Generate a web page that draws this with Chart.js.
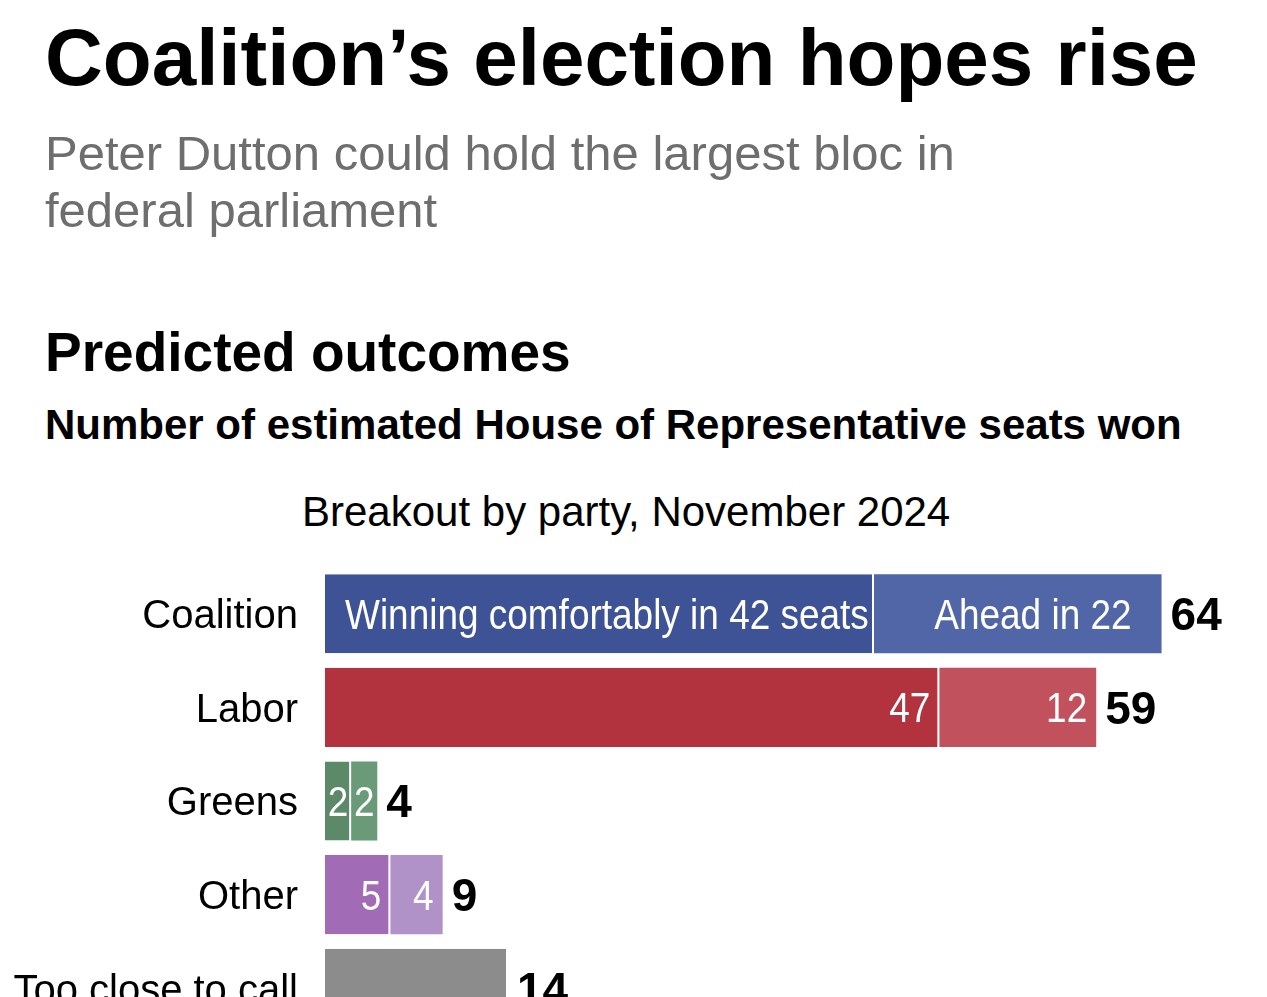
<!DOCTYPE html>
<html>
<head>
<meta charset="utf-8">
<script src="https://cdn.jsdelivr.net/npm/chart.js@4.4.1/dist/chart.umd.min.js"></script>
<style>
html,body{margin:0;padding:0;background:#fff;overflow:hidden;width:1267px;height:997px;}
body{position:relative;font-family:"Liberation Sans",Arial,Helvetica,sans-serif;color:#000;}
.t{position:absolute;left:45px;white-space:nowrap;line-height:1;}
#title{top:18px;font-size:80px;font-weight:bold;}
#sub{top:125px;font-size:49px;color:#6e6e6e;line-height:57px;}
#h2{top:325px;font-size:55px;font-weight:bold;}
#h3{top:404px;font-size:42px;font-weight:bold;}
#brk{left:302px;top:491px;font-size:42px;}
#wrap{position:absolute;left:0;top:560px;width:1267px;height:480px;}
</style>
</head>
<body>
<div class="t" id="title">Coalition’s election hopes rise</div>
<div class="t" id="sub">Peter Dutton could hold the largest bloc in<br>federal parliament</div>
<div class="t" id="h2">Predicted outcomes</div>
<div class="t" id="h3">Number of estimated House of Representative seats won</div>
<div class="t" id="brk">Breakout by party, November 2024</div>
<div id="wrap"><canvas id="c" width="1267" height="480"></canvas></div>
<script>
const categories = ["Coalition", "Labor", "Greens", "Other", "Too close to call"];
const firstSeats = [42, 47, 2, 5, 14];
const secondSeats = [22, 12, 2, 4, 0];
const firstLabels = ["Winning comfortably in 42 seats", "47", "2", "5", ""];
const secondLabels = ["Ahead in 22", "12", "2", "4", ""];
const firstColors = ["#3e5296", "#b2323e", "#5c8a69", "#a26bb5", "#8c8c8c"];
const secondColors = ["#5166a7", "#c0515d", "#6b9a78", "#b092c9", "#8c8c8c"];
const totalLabels = firstSeats.map((v, i) => String(v + secondSeats[i]));

const BAR_FS = 42;
const BAR_FONT = BAR_FS + "px 'Liberation Sans', Arial, sans-serif";
const BAR_SX = 0.88;
const CAT_FONT = "40px 'Liberation Sans', Arial, sans-serif";
const TOT_FS = 46;
const TOT_FONT = "bold " + TOT_FS + "px 'Liberation Sans', Arial, sans-serif";

function narrowText(ctx, txt, x, y, align) {
  ctx.save();
  ctx.translate(x, y);
  ctx.scale(BAR_SX, 1);
  ctx.textAlign = align;
  ctx.fillText(txt, 0, 0);
  ctx.restore();
}

const labelPlugin = {
  id: 'labels',
  afterDatasetsDraw(chart) {
    const ctx = chart.ctx;
    const m0 = chart.getDatasetMeta(0).data;
    const m1 = chart.getDatasetMeta(1).data;
    ctx.save();
    ctx.textBaseline = 'alphabetic';
    categories.forEach((cat, i) => {
      const b0 = m0[i], b1 = m1[i];
      const cy = b0.y;
      ctx.font = CAT_FONT;
      ctx.fillStyle = '#000';
      ctx.textAlign = 'right';
      ctx.fillText(cat, chart.chartArea.left - 27, cy + 40 * 0.716 / 2);
      ctx.font = BAR_FONT;
      ctx.fillStyle = '#fff';
      const by = cy + BAR_FS * 0.716 / 2;
      const segs = [[b0, firstLabels[i], 0], [b1, secondLabels[i], 1]];
      segs.forEach(([b, txt, k]) => {
        if (!txt) return;
        const x0 = b.base, x1 = b.x, w = x1 - x0;
        if (i === 0 && k === 0) {
          narrowText(ctx, txt, x0 + 20, by, 'left');
        } else if (i === 0) {
          narrowText(ctx, txt, x1 - 30, by, 'right');
        } else if (w < 35) {
          narrowText(ctx, txt, (x0 + x1) / 2, by, 'center');
        } else {
          narrowText(ctx, txt, x1 - 9, by, 'right');
        }
      });
      const end = Math.max(b0.x, b1.x);
      ctx.font = TOT_FONT;
      ctx.fillStyle = '#000';
      ctx.textAlign = 'left';
      ctx.fillText(totalLabels[i], end + 9, cy + TOT_FS * 0.716 / 2);
    });
    ctx.restore();
  }
};

new Chart(document.getElementById('c'), {
  type: 'bar',
  data: {
    labels: categories,
    datasets: [
      {
        data: firstSeats,
        backgroundColor: firstColors,
        borderColor: '#ffffff',
        borderWidth: {top: 0, bottom: 0, left: 0, right: 2},
        borderSkipped: false
      },
      {
        data: secondSeats,
        backgroundColor: secondColors,
        borderWidth: 0
      }
    ]
  },
  options: {
    indexAxis: 'y',
    responsive: false,
    animation: false,
    layout: {padding: {left: 325, right: 27, top: 7, bottom: 5}},
    datasets: {bar: {categoryPercentage: 1, barPercentage: 0.845}},
    scales: {
      x: {stacked: true, min: 0, max: 70, display: false},
      y: {stacked: true, display: false}
    },
    plugins: {legend: {display: false}, tooltip: {enabled: false}}
  },
  plugins: [labelPlugin]
});
</script>
</body>
</html>
